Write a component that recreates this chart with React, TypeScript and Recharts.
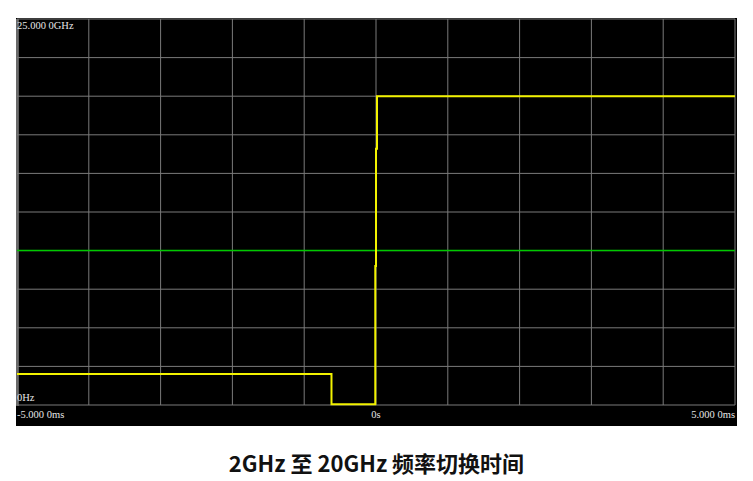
import React from "react";
import { LineChart, Line, XAxis, YAxis, CartesianGrid, ReferenceLine } from "recharts";

const timeMs = [-5, -0.62, -0.62, -0.01, -0.01, 0, 0, 0.014, 0.014, 5];
const freqGHz = [2, 2, 0.05, 0.05, 9, 9, 16.6, 16.6, 20, 20];
const xTicks = [-5, -4, -3, -2, -1, 0, 1, 2, 3, 4, 5];
const yTicks = [0, 2.5, 5, 7.5, 10, 12.5, 15, 17.5, 20, 22.5, 25];
const xLabels: Record<string, string> = { "-5": "-5.000 0ms", "0": "0s", "5": "5.000 0ms" };
const yLabels: Record<string, string> = { "0": "0Hz", "25": "25.000 0GHz" };
const markerGHz = 10;
const title = "2GHz 至 20GHz 频率切换时间";

const data = timeMs.map((t, i) => ({ t, f: freqGHz[i] }));

const serif = "'Liberation Serif', 'Times New Roman', serif";

const XTick = (props: any) => {
  const { x, y, payload } = props;
  const label = xLabels[String(payload.value)];
  if (!label) return null;
  const v = payload.value;
  const anchor = v < 0 ? "start" : v > 0 ? "end" : "middle";
  return (
    <text x={x} y={y + 5} textAnchor={anchor} fill="#e6e6e6" fontSize={10.5} fontFamily={serif}>
      {label}
    </text>
  );
};

const YTick = (props: any) => {
  const { y, payload } = props;
  const label = yLabels[String(payload.value)];
  if (!label) return null;
  const top = payload.value > 0;
  return (
    <text x={17} y={top ? y + 10 : y - 4} textAnchor="start" fill="#e6e6e6" fontSize={10.5} fontFamily={serif}>
      {label}
    </text>
  );
};

export default function App() {
  return (
    <div style={{ position: "absolute", left: 0, top: 0, width: 753, height: 481, background: "#fff" }}>
      <div style={{ position: "absolute", left: 16, top: 18, width: 721, height: 408, background: "#000" }} />
      <div style={{ position: "absolute", left: 16, top: 19, width: 3, height: 387, background: "#5a5a5a" }} />
      <div style={{ position: "absolute", left: 0, top: 0 }}>
        <LineChart width={753} height={481} data={data} margin={{ top: 19, left: 17, right: 18, bottom: 56 }}>
          <CartesianGrid stroke="#7a7a7a" strokeWidth={1} />
          <XAxis
            dataKey="t"
            type="number"
            domain={[-5, 5]}
            ticks={xTicks}
            interval={0}
            axisLine={false}
            tickLine={false}
            height={20}
            tick={<XTick />}
          />
          <YAxis
            type="number"
            domain={[0, 25]}
            ticks={yTicks}
            interval={0}
            axisLine={false}
            tickLine={false}
            mirror
            tick={<YTick />}
          />
          <ReferenceLine y={markerGHz} stroke="#00c800" strokeWidth={1.5} />
          <Line
            dataKey="f"
            type="linear"
            stroke="#f2f200"
            strokeWidth={2}
            dot={false}
            isAnimationActive={false}
          />
        </LineChart>
      </div>
      <div
        style={{
          position: "absolute",
          left: 0,
          width: 753,
          top: 447,
          textAlign: "center",
          fontFamily: "'Noto Sans CJK SC', 'Noto Sans', sans-serif",
          fontWeight: 700,
          fontSize: 22,
          color: "#111",
          lineHeight: "30px",
        }}
      >
        {title}
      </div>
    </div>
  );
}
